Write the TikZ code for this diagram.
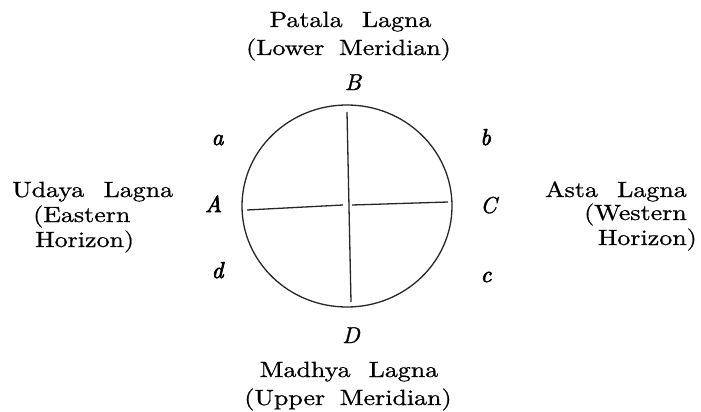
\documentclass[tikz,border=0pt]{standalone}
\usepackage{fontspec}
\setmainfont{lmroman10-regular.otf}[ItalicFont=lmroman10-italic.otf, BoldFont=lmroman10-bold.otf, BoldItalicFont=lmroman10-bolditalic.otf]
\newfontfamily\txtfont{lmroman10-regular.otf}[FakeBold=0.7]
\newfontfamily\letfont{lmroman10-italic.otf}[FakeBold=1.2]
\newfontfamily\letbfont{lmroman10-italic.otf}[FakeBold=3]
\usepackage{graphicx}
\usetikzlibrary{shapes.geometric}
\newcommand\wideT[1]{\scalebox{1.18}[1]{#1}}
\tikzset{
  x=1pt, y=-1pt,
  lbl/.style={inner sep=0pt, font=\fontsize{22}{26}\txtfont},
  pt/.style={inner sep=0pt, font=\fontsize{23}{26}\letfont},
  ptb/.style={inner sep=0pt, font=\fontsize{23}{26}\letbfont},
  ln/.style={line width=1.3pt, black!85}
}
\begin{document}
\begin{tikzpicture}
\useasboundingbox (0,0) rectangle (701,412);
% circle
\node[draw, line width=1.3pt, black!85, ellipse, minimum width=210pt, minimum height=202pt, inner sep=0pt] (circ) at (347,206) {};
\coordinate (top) at (347,112);
\coordinate (bot) at (351,302);
\coordinate (l1) at (247,210);
\coordinate (l2) at (343,205);
\coordinate (r1) at (352,205);
\coordinate (r2) at (448,202);
\draw[ln] (top) -- (bot);
\draw[ln] (l1) -- (l2);
\draw[ln] (r1) -- (r2);
% point letters
\node[pt, anchor=base] (B) at (353,90) {B};
\node[pt, anchor=base] (D) at (351,343) {D};
\node[ptb, anchor=base] (A) at (213.5,212) {A};
\node[pt, anchor=base] (C) at (488.5,213) {C};
\node[ptb, anchor=base] (a) at (217.5,145) {a};
\node[ptb, anchor=base] (b) at (485.5,145) {b};
\node[ptb, anchor=base] (d) at (217.5,278) {d};
\node[ptb, anchor=base] (c) at (486,282) {c};
% top labels
\node[lbl, anchor=base] (pat) at (350.5,27) {\wideT{Patala\hspace{9pt} Lagna}};
\node[lbl, anchor=base] (low) at (348.5,55) {\wideT{(Lower\hspace{5pt} Meridian)}};
% bottom labels
\node[lbl, anchor=base] (mad) at (349,377) {\wideT{Madhya\hspace{8pt} Lagna}};
\node[lbl, anchor=base] (upp) at (348,405) {\wideT{(Upper\hspace{5pt} Meridian)}};
% left labels
\node[lbl, anchor=base west] (uda) at (12,197) {\wideT{Udaya\hspace{9pt} Lagna}};
\node[lbl, anchor=base west] (eas) at (33,222) {\wideT{(Eastern}};
\node[lbl, anchor=base west] (hor1) at (35,247) {\wideT{Horizon)}};
% right labels
\node[lbl, anchor=base east] (ast) at (687,197) {\wideT{Asta\hspace{9pt} Lagna}};
\node[lbl, anchor=base east] (wes) at (687,220) {\wideT{(Western}};
\node[lbl, anchor=base east] (hor2) at (697,245) {\wideT{Horizon)}};
\end{tikzpicture}
\end{document}
